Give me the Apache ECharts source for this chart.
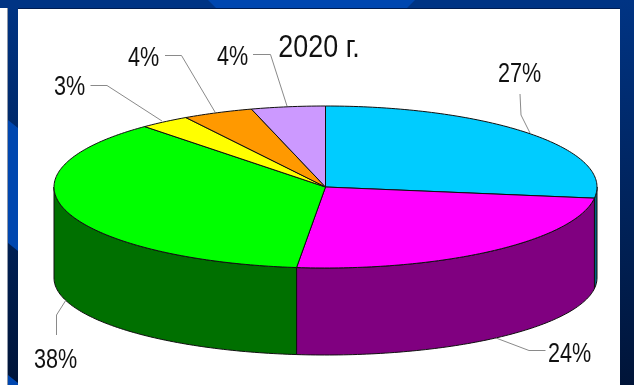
<!DOCTYPE html>
<html><head><meta charset="utf-8">
<style>html,body{margin:0;padding:0;background:#fff;overflow:hidden}#c{width:634px;height:385px}</style>
<script src="https://cdn.jsdelivr.net/npm/echarts@6/dist/echarts.min.js"></script>
</head><body><div id="c"></div>
<script>
const chartTitle = '2020 г.';
const sliceLabels = ['27%', '24%', '38%', '3%', '4%', '4%'];
const sliceShares = [27.2, 24.5, 36.7, 3.0, 4.2, 4.4];
const topColors = ['#00ccff', '#ff00ff', '#00ff00', '#ffff00', '#ff9900', '#cc99ff'];
const wallColors = ['#006680', '#800080', '#007000', '#808000', '#804c00', '#664c80'];

// layout of the annotations: label centre, then leader line (pixels)
const labelCentres = [[519.5, 75], [569.5, 355], [55.5, 360.5], [69.5, 88], [143.5, 58.5], [232.5, 57.5]];
const leaders = [
  [[520, 94], [521, 115], [530, 133]],
  [[545.5, 350.5], [529, 350.5], [496, 338]],
  [[56.5, 335], [56.5, 315], [66, 300]],
  [[90.5, 85.5], [107, 85.5], [162, 121]],
  [[165, 55.5], [181.5, 55.5], [215, 112]],
  [[253, 54.5], [270.5, 54.5], [287, 106]]
];
// lower rim of the wall: slightly flatter ellipse (perspective), in pie radii
const wallDrop = 91 / 81;
const wallFlatten = 77 / 81;
const fontFam = '"Liberation Sans",Arial,sans-serif';

const total = sliceShares.reduce((a, b) => a + b, 0);
let acc = 0;
const sliceRanges = sliceShares.map((v, i) => {
  const s = acc / total * 360; acc += v;
  return [s, acc / total * 360, i];
});
const rad = d => d * Math.PI / 180;
const rim = (d, drop, flat) => [Math.sin(rad(d)), Math.cos(rad(d)) * flat - drop];
function arc(a, b, drop, flat) {
  const out = [], n = Math.max(2, Math.ceil(Math.abs(b - a)));
  for (let k = 0; k <= n; k++) out.push(rim(a + (b - a) * k / n, drop, flat));
  return out;
}

function renderWall(p, api) {
  const a = Math.max(api.value(0), 90), b = Math.min(api.value(1), 270);
  if (b <= a) return null;
  const pts = arc(a, b, 0, 1).concat(arc(b, a, wallDrop, wallFlatten)).map(q => api.coord(q));
  return { type: 'polygon', shape: { points: pts },
    style: { fill: wallColors[api.value(2)], stroke: '#101010', lineWidth: 1 } };
}
function renderTop(p, api) {
  const pts = [[0, 0]].concat(arc(api.value(0), api.value(1), 0, 1)).map(q => api.coord(q));
  return { type: 'polygon', shape: { points: pts },
    style: { fill: topColors[api.value(2)], stroke: '#101010', lineWidth: 1 } };
}
function renderNote(p, api) {
  const i = api.value(0);
  return { type: 'group', children: [
    { type: 'polyline', shape: { points: leaders[i] },
      style: { fill: null, stroke: '#8a8a8a', lineWidth: 1 } },
    { type: 'text', x: labelCentres[i][0], y: labelCentres[i][1], scaleX: 0.8, scaleY: 1,
      style: { text: sliceLabels[i], font: '27px ' + fontFam, fill: '#111',
        align: 'center', verticalAlign: 'middle' } }
  ]};
}

const chart = echarts.init(document.getElementById('c'), null, { renderer: 'canvas' });
chart.setOption({
  animation: false,
  backgroundColor: '#ffffff',
  grid: { left: 54, width: 543, top: 106, height: 162, containLabel: false },
  xAxis: { type: 'value', min: -1, max: 1, show: false },
  yAxis: { type: 'value', min: -1, max: 1, show: false },
  graphic: [
    { type: 'rect', z: -1, shape: { x: 7, y: 0, width: 1, height: 385 }, style: { fill: '#8f98a8' } },
    { type: 'rect', z: -1, shape: { x: 8, y: 0, width: 10, height: 385 }, style: { fill: new echarts.graphic.LinearGradient(0, 0, 0, 1, [{ offset: 0, color: '#003484' }, { offset: 1, color: '#001438' }]) } },
    { type: 'rect', z: -1, shape: { x: 0, y: 0, width: 634, height: 8 }, style: { fill: '#003484' } },
    { type: 'rect', z: -1, shape: { x: 620, y: 0, width: 14, height: 385 }, style: { fill: new echarts.graphic.LinearGradient(0, 0, 0, 1, [{ offset: 0, color: '#003484' }, { offset: 1, color: '#001438' }]) } },
    { type: 'polygon', z: -1, shape: { points: [[8, 120], [18, 128], [18, 251], [8, 243]] }, style: { fill: '#0047b0' } },
    { type: 'polygon', z: -1, shape: { points: [[8, 375], [18, 383], [18, 385], [8, 385]] }, style: { fill: '#0047b0' } },
    { type: 'polygon', z: -1, shape: { points: [[208, 0], [415, 0], [407, 8], [216, 8]] }, style: { fill: '#0047b0' } },
    { type: 'rect', z: -1, shape: { x: 18, y: 8, width: 602, height: 1 }, style: { fill: '#001c50' } },
    { type: 'text', z: 5, x: 319, y: 48.5, scaleX: 0.84, scaleY: 1, style: { text: chartTitle, font: '32px ' + fontFam, fill: '#111', align: 'center', verticalAlign: 'middle' } }
  ],
  series: [
    { type: 'custom', coordinateSystem: 'cartesian2d', clip: false, z: 2, data: sliceRanges, renderItem: renderWall, silent: true },
    { type: 'custom', coordinateSystem: 'cartesian2d', clip: false, z: 3, data: sliceRanges, renderItem: renderTop, silent: true },
    { type: 'custom', coordinateSystem: 'cartesian2d', clip: false, z: 4, data: sliceLabels.map((_, i) => [i]), renderItem: renderNote, silent: true }
  ]
});
</script></body></html>
